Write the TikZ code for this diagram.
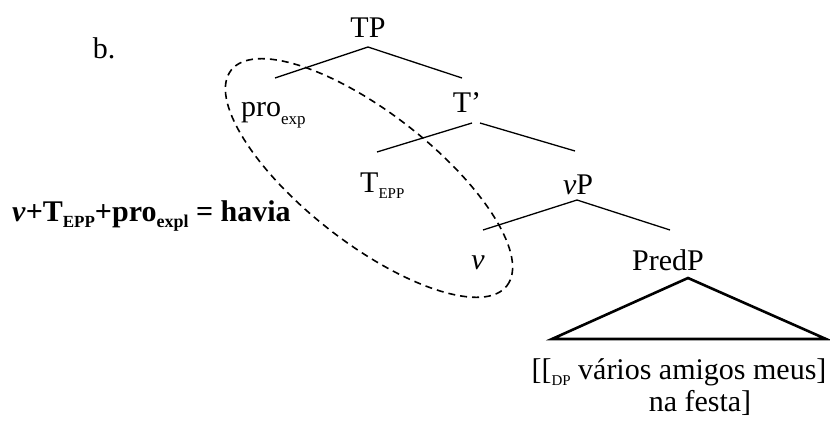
\documentclass[tikz,border=0pt]{standalone}
\usepackage{fontspec}
\setmainfont{Liberation Serif}
\newcommand\subsm[1]{\raisebox{-0.28em}{\fontsize{17}{17}\selectfont #1}}
\newcommand\subcap[1]{\raisebox{-0.2em}{\fontsize{15}{15}\selectfont #1}}
\begin{document}
\begin{tikzpicture}[x=1pt,y=-1pt,
  lab/.style={anchor=base,inner sep=0pt,font=\fontsize{30}{34}\selectfont},
  branch/.style={line width=1.3pt},
  roof/.style={line width=2.6pt,line join=miter}]
\useasboundingbox (0,0) rectangle (830,423);
% labels
\node[lab] (b) at (104,58) {b.};
\node[lab] (TP) at (368,37) {TP};
\node[lab,anchor=base west] (pro) at (241,116) {pro\subsm{exp}};
\node[lab] (Tbar) at (467,112) {T’};
\node[lab,anchor=base west] (TEPP) at (360,192) {T\subcap{EPP}};
\node[lab] (vP) at (578,194) {\textit{v}P};
\node[lab] (v) at (478,269) {\textit{v}};
\node[lab] (PredP) at (668,270) {PredP};
\node[lab] (dp1) at (679,379) {[[\subcap{DP} vários amigos meus]};
\node[lab] (dp2) at (700,411) {na festa]};
\node[anchor=base west,inner sep=0pt,font=\fontsize{30}{34}\selectfont\bfseries] (eq) at (12,221)
  {\textit{v}+T\subcap{\fontsize{17}{17}\selectfont EPP}+pro\subcap{\fontsize{18}{18}\selectfont expl} = havia};
% branch points
\coordinate (TPa) at (368,47);
\coordinate (TPl) at (275,78);
\coordinate (TPr) at (462,78);
\coordinate (Tba) at (472,123);
\coordinate (Tbb) at (480,123);
\coordinate (Tbl) at (377,152);
\coordinate (Tbr) at (575,151);
\coordinate (vPa) at (577,200);
\coordinate (vPl) at (483,230);
\coordinate (vPr) at (670,230);
\coordinate (Pa) at (688,278);
\coordinate (Pl) at (552,339);
\coordinate (Pr) at (826,339);
\draw[branch] (TPl) -- (TPa) -- (TPr);
\draw[branch] (Tba) -- (Tbl);
\draw[branch] (Tbb) -- (Tbr);
\draw[branch] (vPl) -- (vPa) -- (vPr);
\draw[roof] (Pa) -- (Pl) -- (Pr) -- cycle;
% ellipse
\coordinate (ec) at (369,178);
\draw[line width=1.6pt,dash pattern=on 7pt off 5pt,rotate around={-38:(ec)}]
  (ec) ellipse [x radius=175pt,y radius=65pt];
\end{tikzpicture}
\end{document}
